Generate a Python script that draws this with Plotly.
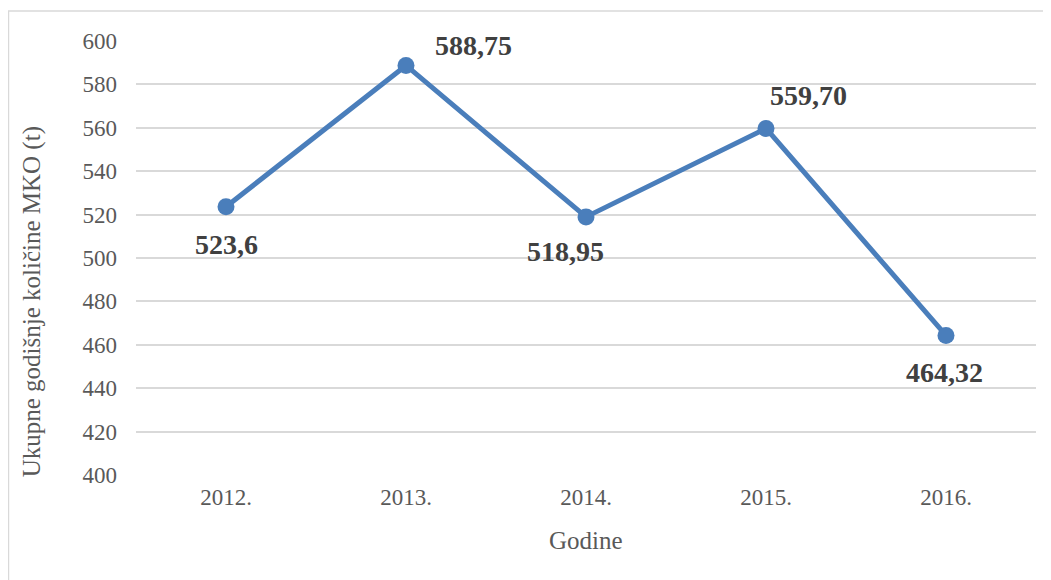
import plotly.graph_objects as go

years = ["2012.", "2013.", "2014.", "2015.", "2016."]
values = [523.6, 588.75, 518.95, 559.70, 464.32]
labels = ["523,6", "588,75", "518,95", "559,70", "464,32"]
y_ticks = [400, 420, 440, 460, 480, 500, 520, 540, 560, 580, 600]

# label offsets in pixels (style, not data)
label_dx = [0, 67, -21, 42, -2]
label_dy = [-38, 20, -35, 33, -37]

FONT = "Liberation Serif, Times New Roman, serif"
LINE_COLOR = "#4A7EBB"
TXT = "#595959"

fig = go.Figure()
fig.add_trace(go.Scatter(
    x=years, y=values, mode="lines+markers",
    line=dict(color=LINE_COLOR, width=5),
    marker=dict(color=LINE_COLOR, size=17),
    showlegend=False, hoverinfo="skip",
))

for i, (yv, t, dx, dy) in enumerate(zip(values, labels, label_dx, label_dy)):
    fig.add_annotation(x=i, y=yv, xref="x", yref="y", text="<b>%s</b>" % t,
                       showarrow=False, xshift=dx, yshift=dy,
                       font=dict(family=FONT, size=28, color="#404040"))

# y axis title
fig.add_annotation(xref="paper", yref="paper", x=-0.1156, y=0.40,
                   xanchor="center", yanchor="middle",
                   text="Ukupne godišnje količine MKO (t)",
                   textangle=-90, showarrow=False,
                   font=dict(family=FONT, size=25, color=TXT))
# x axis title
fig.add_annotation(xref="paper", yref="paper", x=0.5, y=-0.150,
                   xanchor="center", yanchor="middle",
                   text="Godine", showarrow=False,
                   font=dict(family=FONT, size=25, color=TXT))

# chart border
fig.add_shape(type="rect", xref="paper", yref="paper",
              x0=-0.1417, x1=1.05, y0=-0.3, y1=1.0691,
              line=dict(color="#D9D9D9", width=1.5), layer="below")

fig.update_layout(
    width=1043, height=572,
    margin=dict(l=128, r=15, t=33, b=105),
    paper_bgcolor="white", plot_bgcolor="white",
    font=dict(family=FONT, color=TXT),
    xaxis=dict(
        type="category", range=[-0.5, 4.5],
        showgrid=False, showline=False, zeroline=False, ticks="",
        tickfont=dict(family=FONT, size=23, color=TXT),
        ticklabelstandoff=6,
    ),
    yaxis=dict(
        range=[400, 600], tickvals=y_ticks,
        showgrid=True, gridcolor="#D9D9D9", gridwidth=1.5,
        zeroline=False, showline=False, ticks="",
        tickfont=dict(family=FONT, size=23, color=TXT),
        ticklabelstandoff=18,
    ),
)

fig.write_html("out.html")
